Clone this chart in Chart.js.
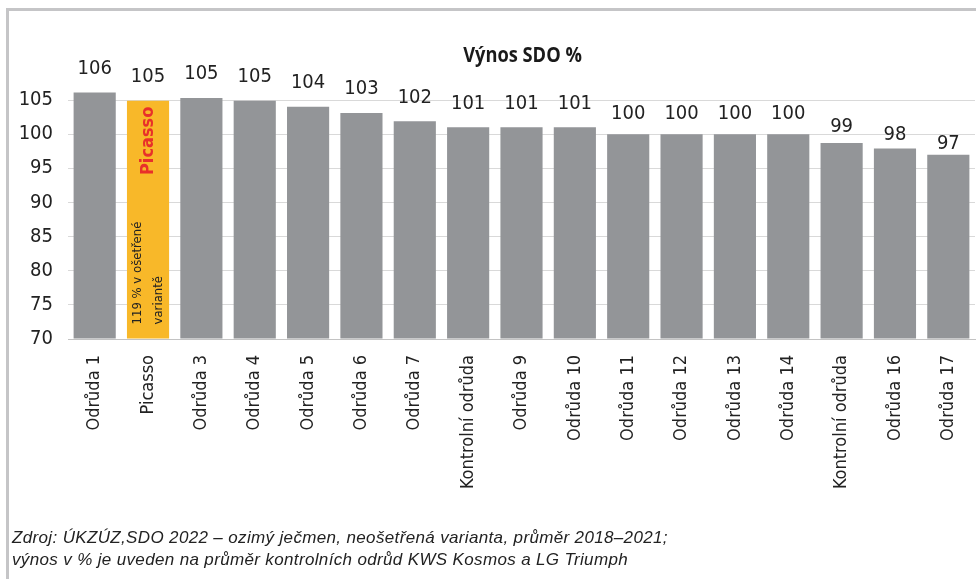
<!DOCTYPE html>
<html>
<head>
<meta charset="utf-8">
<script src="https://cdn.jsdelivr.net/npm/chart.js@4"></script>
<style>
  body { margin: 0; background: #fff; width: 976px; height: 579px; overflow: hidden; position: relative; }
  #frame { position: absolute; left: 6px; top: 8px; width: 1000px; height: 600px;
           border-top: 3px solid #c5c5c7; border-left: 3px solid #c5c5c7; }
  #wrap { position: absolute; left: 0; top: 0; width: 976px; height: 579px; }
  #note { position: absolute; left: 12px; top: 527px; color: #222; letter-spacing: 0.35px;
          font: italic 17px "Liberation Sans", Arial, sans-serif; line-height: 22px; }
</style>
</head>
<body>
<div id="frame"></div>
<div id="wrap"><canvas id="myChart"></canvas></div>
<div id="note">Zdroj: ÚKZÚZ,SDO 2022 – ozimý ječmen, neošetřená varianta, průměr 2018–2021;<br>výnos v % je uveden na průměr kontrolních odrůd KWS Kosmos a LG Triumph</div>
<script>
// data
const odrudy = ['Odrůda 1', 'Picasso', 'Odrůda 3', 'Odrůda 4', 'Odrůda 5', 'Odrůda 6', 'Odrůda 7',
  'Kontrolní odrůda', 'Odrůda 9', 'Odrůda 10', 'Odrůda 11', 'Odrůda 12', 'Odrůda 13', 'Odrůda 14',
  'Kontrolní odrůda', 'Odrůda 16', 'Odrůda 17'];
const vynos = [106.1, 104.9, 105.3, 104.9, 104.0, 103.1, 101.9, 101.0, 101.0, 101.0,
  100.0, 100.0, 100.0, 100.0, 98.7, 97.9, 97.0];
const yTicks = [70, 75, 80, 85, 90, 95, 100, 105];
const nadpis = 'Výnos SDO %';
const zvyraznena = 'Picasso';
const poznamka = ['119 % v ošetřené', 'variantě'];

const COND = '"DejaVu Sans Condensed", "Liberation Sans Narrow", sans-serif';
const SEDA = '#939598';
const ORANZ = '#f8b829';

const popisky = {
  id: 'popisky',
  afterDatasetsDraw(chart) {
    const ctx = chart.ctx;
    const meta = chart.getDatasetMeta(0);
    const area = chart.chartArea;
    ctx.save();
    // title (squeezed a bit, the original face is condensed)
    ctx.fillStyle = '#1a1a1a';
    ctx.font = 'bold 21px "Open Sans", sans-serif';
    ctx.textAlign = 'center';
    ctx.textBaseline = 'alphabetic';
    ctx.save();
    ctx.translate((area.left + area.right) / 2 + 1, 62);
    ctx.scale(0.87, 1);
    ctx.fillText(nadpis, 0, 0);
    ctx.restore();
    // value labels
    ctx.font = '20px ' + COND;
    ctx.fillStyle = '#222';
    meta.data.forEach((bar, i) => {
      const v = vynos[i];
      const off = Math.min(18.5, 6 + (v - 97) * 3);
      ctx.fillText(Math.round(v), bar.x, bar.y - off);
    });
    // Picasso annotation
    const k = odrudy.indexOf(zvyraznena);
    const b = meta.data[k];
    ctx.translate(b.x, 0);
    ctx.rotate(-Math.PI / 2);
    ctx.fillStyle = '#e8302a';
    ctx.font = 'bold 18px ' + COND;
    ctx.textAlign = 'right';
    ctx.textBaseline = 'middle';
    ctx.fillText(zvyraznena, -(b.y + 6), 0);
    ctx.fillStyle = '#222';
    ctx.font = '13px ' + COND;
    ctx.textAlign = 'left';
    ctx.fillText(poznamka[0], -(b.base - 14), -10);
    ctx.fillText(poznamka[1], -(b.base - 14), 11);
    ctx.restore();
  }
};

const ctx = document.getElementById('myChart').getContext('2d');
const myChart = new Chart(ctx, {
  type: 'bar',
  data: {
    labels: odrudy,
    datasets: [{
      data: vynos,
      base: yTicks[0],
      backgroundColor: odrudy.map(o => o === zvyraznena ? ORANZ : SEDA),
      borderWidth: 0,
      categoryPercentage: 1,
      barPercentage: 0.79,
      clip: { left: 0, right: 0, bottom: 0, top: false }
    }]
  },
  options: {
    responsive: true,
    maintainAspectRatio: false,
    animation: false,
    layout: { padding: { top: 100, right: 1, left: 0, bottom: 0 } },
    plugins: { legend: { display: false }, tooltip: { enabled: false } },
    scales: {
      x: {
        grid: { display: false, drawTicks: false },
        border: { display: true, color: '#c3c3c3', width: 1 },
        ticks: { autoSkip: false, minRotation: 90, maxRotation: 90, padding: 16,
                 color: '#222', font: { family: COND, size: 18 } },
        afterFit(s) { s.height = 240; s.paddingLeft = 0; s.paddingRight = 0; }
      },
      y: {
        min: 70,
        max: 105,
        afterBuildTicks(s) { s.ticks = yTicks.map(v => ({ value: v })); },
        grid: { color: '#d9d9d9', drawTicks: false },
        border: { display: false },
        ticks: { padding: 15, color: '#222', font: { family: COND, size: 20 } },
        afterFit(s) { s.width = 68; }
      }
    }
  },
  plugins: [popisky]
});
</script>
</body>
</html>
